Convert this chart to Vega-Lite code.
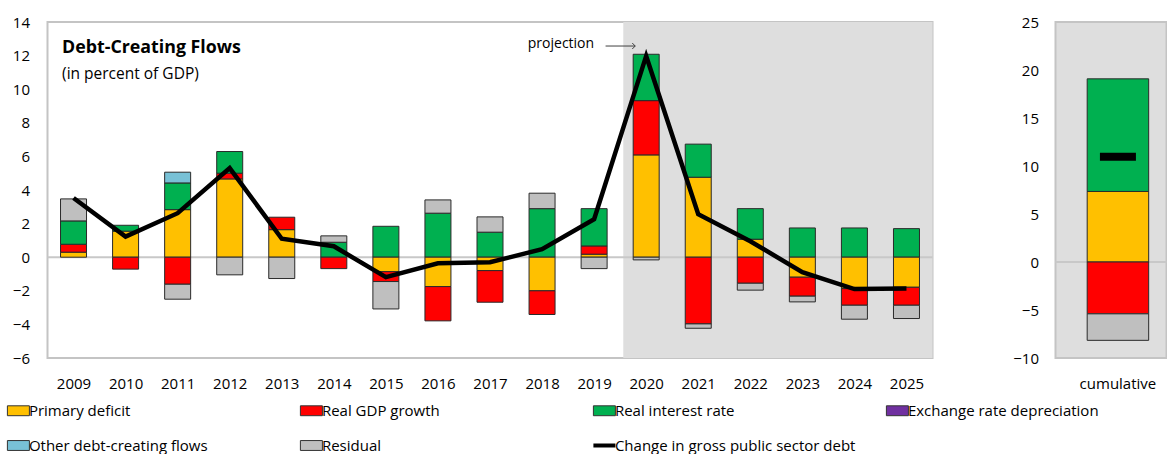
{
  "$schema": "https://vega.github.io/schema/vega-lite/v6.json",
  "padding": {"left": 10.5, "top": 14, "right": 0, "bottom": 0},
  "spacing": 77,
  "config": {
    "font": "Open Sans",
    "axis": {"labelFontSize": 15, "labelColor": "#000000", "grid": false, "ticks": false, "domain": false, "title": null, "labelOverlap": false},
    "legend": {"labelFontSize": 15, "labelColor": "#000000"}
  },
  "datasets": {
    "flows": [
      {"year": 2009, "flow": "Primary deficit", "value": 0.30},
      {"year": 2009, "flow": "Real GDP growth", "value": 0.47},
      {"year": 2009, "flow": "Real interest rate", "value": 1.39},
      {"year": 2009, "flow": "Residual", "value": 1.31},
      {"year": 2010, "flow": "Primary deficit", "value": 1.55},
      {"year": 2010, "flow": "Real interest rate", "value": 0.35},
      {"year": 2010, "flow": "Real GDP growth", "value": -0.71},
      {"year": 2011, "flow": "Primary deficit", "value": 2.83},
      {"year": 2011, "flow": "Real interest rate", "value": 1.59},
      {"year": 2011, "flow": "Other debt-creating flows", "value": 0.64},
      {"year": 2011, "flow": "Real GDP growth", "value": -1.61},
      {"year": 2011, "flow": "Residual", "value": -0.89},
      {"year": 2012, "flow": "Primary deficit", "value": 4.66},
      {"year": 2012, "flow": "Real GDP growth", "value": 0.34},
      {"year": 2012, "flow": "Real interest rate", "value": 1.29},
      {"year": 2012, "flow": "Residual", "value": -1.05},
      {"year": 2013, "flow": "Primary deficit", "value": 1.64},
      {"year": 2013, "flow": "Real GDP growth", "value": 0.74},
      {"year": 2013, "flow": "Residual", "value": -1.27},
      {"year": 2014, "flow": "Real interest rate", "value": 0.89},
      {"year": 2014, "flow": "Residual", "value": 0.38},
      {"year": 2014, "flow": "Real GDP growth", "value": -0.68},
      {"year": 2015, "flow": "Real interest rate", "value": 1.84},
      {"year": 2015, "flow": "Primary deficit", "value": -0.86},
      {"year": 2015, "flow": "Real GDP growth", "value": -0.59},
      {"year": 2015, "flow": "Residual", "value": -1.63},
      {"year": 2016, "flow": "Real interest rate", "value": 2.62},
      {"year": 2016, "flow": "Residual", "value": 0.79},
      {"year": 2016, "flow": "Primary deficit", "value": -1.75},
      {"year": 2016, "flow": "Real GDP growth", "value": -2.04},
      {"year": 2017, "flow": "Real interest rate", "value": 1.49},
      {"year": 2017, "flow": "Residual", "value": 0.91},
      {"year": 2017, "flow": "Primary deficit", "value": -0.80},
      {"year": 2017, "flow": "Real GDP growth", "value": -1.88},
      {"year": 2018, "flow": "Real interest rate", "value": 2.89},
      {"year": 2018, "flow": "Residual", "value": 0.92},
      {"year": 2018, "flow": "Primary deficit", "value": -2.00},
      {"year": 2018, "flow": "Real GDP growth", "value": -1.41},
      {"year": 2019, "flow": "Primary deficit", "value": 0.18},
      {"year": 2019, "flow": "Real GDP growth", "value": 0.49},
      {"year": 2019, "flow": "Real interest rate", "value": 2.22},
      {"year": 2019, "flow": "Residual", "value": -0.68},
      {"year": 2020, "flow": "Primary deficit", "value": 6.09},
      {"year": 2020, "flow": "Real GDP growth", "value": 3.23},
      {"year": 2020, "flow": "Real interest rate", "value": 2.76},
      {"year": 2020, "flow": "Residual", "value": -0.16},
      {"year": 2021, "flow": "Primary deficit", "value": 4.76},
      {"year": 2021, "flow": "Real interest rate", "value": 1.97},
      {"year": 2021, "flow": "Real GDP growth", "value": -3.97},
      {"year": 2021, "flow": "Residual", "value": -0.26},
      {"year": 2022, "flow": "Primary deficit", "value": 1.07},
      {"year": 2022, "flow": "Real interest rate", "value": 1.82},
      {"year": 2022, "flow": "Real GDP growth", "value": -1.55},
      {"year": 2022, "flow": "Residual", "value": -0.41},
      {"year": 2023, "flow": "Real interest rate", "value": 1.74},
      {"year": 2023, "flow": "Primary deficit", "value": -1.19},
      {"year": 2023, "flow": "Real GDP growth", "value": -1.13},
      {"year": 2023, "flow": "Residual", "value": -0.34},
      {"year": 2024, "flow": "Real interest rate", "value": 1.74},
      {"year": 2024, "flow": "Primary deficit", "value": -1.87},
      {"year": 2024, "flow": "Real GDP growth", "value": -0.99},
      {"year": 2024, "flow": "Residual", "value": -0.83},
      {"year": 2025, "flow": "Real interest rate", "value": 1.70},
      {"year": 2025, "flow": "Primary deficit", "value": -1.79},
      {"year": 2025, "flow": "Real GDP growth", "value": -1.07},
      {"year": 2025, "flow": "Residual", "value": -0.79}
    ],
    "debt": [
      {"year": 2009, "change": 3.52},
      {"year": 2010, "change": 1.23},
      {"year": 2011, "change": 2.62},
      {"year": 2012, "change": 5.30},
      {"year": 2013, "change": 1.10},
      {"year": 2014, "change": 0.65},
      {"year": 2015, "change": -1.19},
      {"year": 2016, "change": -0.36},
      {"year": 2017, "change": -0.30},
      {"year": 2018, "change": 0.48},
      {"year": 2019, "change": 2.26},
      {"year": 2020, "change": 11.98},
      {"year": 2021, "change": 2.56},
      {"year": 2022, "change": 0.95},
      {"year": 2023, "change": -0.89},
      {"year": 2024, "change": -1.90},
      {"year": 2025, "change": -1.87}
    ],
    "cum": [
      {"cat": "cumulative", "flow": "Primary deficit", "value": 7.35},
      {"cat": "cumulative", "flow": "Real interest rate", "value": 11.73},
      {"cat": "cumulative", "flow": "Real GDP growth", "value": -5.40},
      {"cat": "cumulative", "flow": "Residual", "value": -2.76}
    ],
    "cumdebt": [
      {"cat": "cumulative", "change": 10.96}
    ]
  },
  "hconcat": [
    {
      "width": 885,
      "height": 336,
      "view": {"fill": "#FFFFFF", "stroke": "#C4C4C4", "strokeWidth": 2},
      "layer": [
        {
          "data": {"values": [{}]},
          "mark": {"type": "rect", "color": "#DEDEDE"},
          "encoding": {
            "x": {"datum": 2019.56, "type": "quantitative"},
            "x2": {"datum": 2025.5},
            "y": {"datum": -6, "type": "quantitative"},
            "y2": {"datum": 14}
          }
        },
        {
          "data": {"values": [{}]},
          "mark": {"type": "rule", "color": "#C8C8C8", "strokeWidth": 2},
          "encoding": {"y": {"datum": 0, "type": "quantitative"}}
        },
        {
          "data": {"name": "flows"},
          "transform": [
            {"calculate": "indexof(['Primary deficit', 'Real GDP growth', 'Real interest rate', 'Exchange rate depreciation', 'Other debt-creating flows', 'Residual'], datum.flow)", "as": "stackRank"}
          ],
          "mark": {"type": "bar", "width": 26, "stroke": "#2a2a2a", "strokeWidth": 1},
          "encoding": {
            "x": {
              "field": "year", "type": "quantitative",
              "scale": {"domain": [2008.5, 2025.5], "nice": false, "zero": false, "padding": 0},
              "axis": {"values": [2009, 2010, 2011, 2012, 2013, 2014, 2015, 2016, 2017, 2018, 2019, 2020, 2021, 2022, 2023, 2024, 2025], "tickCount": 30, "format": "d", "labelPadding": 18, "labelFlush": false, "labelOverlap": false}
            },
            "y": {
              "field": "value", "type": "quantitative", "stack": "zero",
              "scale": {"domain": [-6, 14], "nice": false},
              "axis": {"values": [-6, -4, -2, 0, 2, 4, 6, 8, 10, 12, 14], "tickCount": 20, "labelPadding": 18, "labelOverlap": false, "labelFlush": false}
            },
            "order": {"field": "stackRank", "type": "quantitative", "sort": "ascending"},
            "color": {
              "field": "flow", "type": "nominal",
              "scale": {
                "domain": ["Primary deficit", "Real GDP growth", "Real interest rate", "Exchange rate depreciation", "Other debt-creating flows", "Residual", "Change in gross public sector debt"],
                "range": ["#FFC000", "#FF0000", "#00B050", "#7030A0", "#78C1D6", "#BFBFBF", "#000000"]
              },
              "legend": {
                "orient": "none", "legendX": -36.6, "legendY": 381, "direction": "horizontal",
                "values": ["Primary deficit", "Real GDP growth", "Real interest rate", "Exchange rate depreciation", "Other debt-creating flows", "Residual", "Change in gross public sector debt"],
                "title": null, "columns": 4, "gridAlign": "all", "columnPadding": 22, "rowPadding": 18,
                "symbolType": "M-1,-0.45H1V0.45H-1Z", "symbolSize": 484, "symbolStrokeWidth": 1, "symbolStrokeColor": "#333333",
                "labelFontSize": 15, "labelOffset": 3, "labelLimit": 400,
                "encode": {
                  "symbols": {
                    "update": {
                      "shape": {"signal": "datum.value === 'Change in gross public sector debt' ? 'stroke' : 'M-1,-0.45H1V0.45H-1Z'"},
                      "strokeWidth": {"signal": "datum.value === 'Change in gross public sector debt' ? 4 : 1"},
                      "stroke": {"signal": "datum.value === 'Change in gross public sector debt' ? '#000000' : '#333333'"},
                      "opacity": {"value": 1}
                    }
                  }
                }
              }
            }
          }
        },
        {
          "data": {"name": "debt"},
          "mark": {"type": "line", "color": "#000000", "strokeWidth": 4.5},
          "encoding": {
            "x": {"field": "year", "type": "quantitative"},
            "y": {"field": "change", "type": "quantitative"}
          }
        },
        {
          "data": {"values": [{}]},
          "mark": {"type": "text", "text": "Debt-Creating Flows", "fontSize": 17.8, "fontWeight": "bold", "align": "left", "baseline": "alphabetic", "color": "#000000"},
          "encoding": {"x": {"datum": 2008.78, "type": "quantitative"}, "y": {"datum": 12.14, "type": "quantitative"}}
        },
        {
          "data": {"values": [{}]},
          "mark": {"type": "text", "text": "(in percent of GDP)", "fontSize": 15.5, "align": "left", "baseline": "alphabetic", "color": "#000000"},
          "encoding": {"x": {"datum": 2008.78, "type": "quantitative"}, "y": {"datum": 10.63, "type": "quantitative"}}
        },
        {
          "data": {"values": [{}]},
          "mark": {"type": "text", "text": "projection", "fontSize": 14, "align": "right", "baseline": "alphabetic", "color": "#000000"},
          "encoding": {"x": {"datum": 2019.0, "type": "quantitative"}, "y": {"datum": 12.44, "type": "quantitative"}}
        },
        {
          "data": {"values": [{}]},
          "mark": {"type": "rule", "color": "#404040", "strokeWidth": 1},
          "encoding": {"x": {"datum": 2019.22, "type": "quantitative"}, "x2": {"datum": 2019.79}, "y": {"datum": 12.57, "type": "quantitative"}}
        },
        {
          "data": {"values": [{}]},
          "mark": {"type": "point", "shape": "M-1,-1L0,0L-1,1", "size": 36, "filled": false, "stroke": "#404040", "strokeWidth": 1, "opacity": 1},
          "encoding": {"x": {"datum": 2019.79, "type": "quantitative"}, "y": {"datum": 12.57, "type": "quantitative"}}
        }
      ]
    },
    {
      "width": 111,
      "height": 336,
      "view": {"fill": "#DEDEDE", "stroke": "#C4C4C4", "strokeWidth": 2},
      "layer": [
        {
          "data": {"values": [{}]},
          "mark": {"type": "rule", "color": "#C8C8C8", "strokeWidth": 2},
          "encoding": {"y": {"datum": 0, "type": "quantitative"}}
        },
        {
          "data": {"name": "cum"},
          "transform": [
            {"calculate": "indexof(['Primary deficit', 'Real GDP growth', 'Real interest rate', 'Exchange rate depreciation', 'Other debt-creating flows', 'Residual'], datum.flow)", "as": "stackRank"}
          ],
          "mark": {"type": "bar", "stroke": "#2a2a2a", "strokeWidth": 1},
          "encoding": {
            "x": {
              "field": "cat", "type": "nominal",
              "scale": {"paddingInner": 0, "paddingOuter": 0.4024, "align": 0.64},
              "axis": {"labelAngle": 0, "labelPadding": 18}
            },
            "y": {
              "field": "value", "type": "quantitative", "stack": "zero",
              "scale": {"domain": [-10, 25], "nice": false},
              "axis": {"values": [-10, -5, 0, 5, 10, 15, 20, 25], "tickCount": 20, "labelPadding": 17, "labelOverlap": false, "labelFlush": false}
            },
            "order": {"field": "stackRank", "type": "quantitative", "sort": "ascending"},
            "color": {
              "field": "flow", "type": "nominal",
              "scale": {
                "domain": ["Primary deficit", "Real GDP growth", "Real interest rate", "Exchange rate depreciation", "Other debt-creating flows", "Residual", "Change in gross public sector debt"],
                "range": ["#FFC000", "#FF0000", "#00B050", "#7030A0", "#78C1D6", "#BFBFBF", "#000000"]
              },
              "legend": {
                "orient": "none", "legendX": -36.6, "legendY": 381, "direction": "horizontal",
                "values": ["Primary deficit", "Real GDP growth", "Real interest rate", "Exchange rate depreciation", "Other debt-creating flows", "Residual", "Change in gross public sector debt"],
                "title": null, "columns": 4, "gridAlign": "all", "columnPadding": 22, "rowPadding": 18,
                "symbolType": "M-1,-0.45H1V0.45H-1Z", "symbolSize": 484, "symbolStrokeWidth": 1, "symbolStrokeColor": "#333333",
                "labelFontSize": 15, "labelOffset": 3, "labelLimit": 400,
                "encode": {
                  "symbols": {
                    "update": {
                      "shape": {"signal": "datum.value === 'Change in gross public sector debt' ? 'stroke' : 'M-1,-0.45H1V0.45H-1Z'"},
                      "strokeWidth": {"signal": "datum.value === 'Change in gross public sector debt' ? 4 : 1"},
                      "stroke": {"signal": "datum.value === 'Change in gross public sector debt' ? '#000000' : '#333333'"},
                      "opacity": {"value": 1}
                    }
                  }
                }
              }
            }
          }
        },
        {
          "data": {"name": "cumdebt"},
          "mark": {"type": "tick", "color": "#000000", "thickness": 8, "size": 36, "opacity": 1},
          "encoding": {
            "x": {"field": "cat", "type": "nominal"},
            "y": {"field": "change", "type": "quantitative"}
          }
        }
      ]
    }
  ]
}
